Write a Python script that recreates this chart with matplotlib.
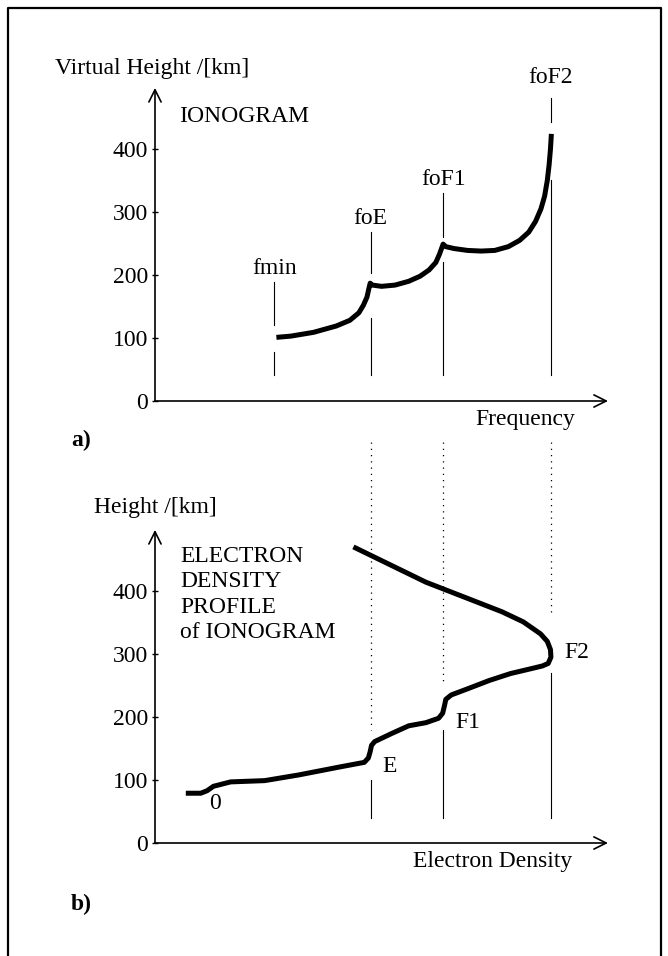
import matplotlib
matplotlib.use("Agg")
import matplotlib.pyplot as plt

plt.rcParams['font.family'] = ['Liberation Serif', 'DejaVu Serif']

# ---- ionogram: virtual height versus sounding frequency ----
iono_freq = [2.68, 3.00, 3.50, 4.00, 4.30, 4.50, 4.60, 4.68, 4.72, 4.75,
             4.80, 5.00, 5.30, 5.60, 5.85, 6.05, 6.20, 6.28, 6.33, 6.36,
             6.42, 6.60, 6.90, 7.20, 7.50, 7.80, 8.05, 8.25, 8.40, 8.52,
             8.60, 8.66, 8.70, 8.73, 8.75]
iono_height = [101, 103, 109, 119, 128, 140, 152, 165, 178, 187,
               184, 182, 184, 190, 198, 208, 220, 233, 243, 249,
               245, 242, 239, 238, 239, 245, 255, 268, 285, 305,
               325, 350, 375, 400, 424]

critical_names = ['fmin', 'foE', 'foF1', 'foF2']
critical_freqs = [2.63, 4.76, 6.36, 8.74]

# ---- electron density profile derived from the ionogram ----
prof_density = [0.68, 1.01, 1.15, 1.29, 1.67, 2.42, 3.17, 4.10, 4.62, 4.71,
                4.75, 4.78, 4.85, 5.23, 5.60, 5.98, 6.26, 6.35, 6.39, 6.42,
                6.54, 6.91, 7.38, 7.85, 8.32, 8.55, 8.68, 8.74, 8.73, 8.66,
                8.51, 8.13, 7.66, 6.91, 5.98, 4.38]
prof_height = [79, 79, 83, 90, 97, 99, 108, 121, 128, 135,
               145, 155, 161, 174, 186, 191, 198, 206, 218, 228,
               235, 245, 258, 269, 277, 281, 285, 295, 307, 320,
               332, 351, 367, 388, 414, 470]

layer_names = ['0', 'E', 'F1', 'F2']
layer_density = [4.76, 6.36, 8.74]

height_ticks = [0, 100, 200, 300, 400]

FS = 17
W, H = 668, 956
PX_X = 45.3      # pixels per frequency unit
PX_Y = 0.63      # pixels per km
X0 = 155         # pixel column of the height axis
XMAX, YMAX = 10.2, 520

fig = plt.figure(figsize=(W / 100, H / 100), dpi=100)


def make_axes(y_zero_px):
    ax = fig.add_axes([X0 / W, (H - y_zero_px) / H,
                       XMAX * PX_X / W, YMAX * PX_Y / H])
    ax.set_xlim(0, XMAX)
    ax.set_ylim(0, YMAX)
    for s in ax.spines.values():
        s.set_visible(False)
    ax.set_xticks([])
    ax.set_yticks(height_ticks)
    ax.tick_params(axis='y', direction='inout', length=4, width=1.0,
                   pad=3, labelsize=FS)
    ax.patch.set_alpha(0)
    arrow = dict(arrowstyle='->', lw=1.2, color='black',
                 shrinkA=0, shrinkB=0, mutation_scale=22)
    ax.annotate('', xy=(10.0, 0), xytext=(0, 0), arrowprops=arrow,
                annotation_clip=False)
    ax.annotate('', xy=(0, 497), xytext=(0, 0), arrowprops=arrow,
                annotation_clip=False)
    return ax


# ---------------- panel a ----------------
ax_a = make_axes(401)
ax_a.plot(iono_freq, iono_height, color='black', lw=3.6,
          solid_joinstyle='round', solid_capstyle='butt', clip_on=False)

upper_spans = [(121, 189), (203, 268), (260, 330), (443, 481)]
lower_spans = [(41, 78), (41, 132), (41, 221), (41, 351)]
label_heights = [211, 290, 351, 514]
for f, name, up, lo, lh in zip(critical_freqs, critical_names,
                               upper_spans, lower_spans, label_heights):
    ax_a.plot([f, f], up, color='black', lw=0.8, clip_on=False)
    ax_a.plot([f, f], lo, color='black', lw=0.8, clip_on=False)
    ax_a.text(f, lh, name, ha='center', va='center', fontsize=FS,
              clip_on=False)

ax_a.text(-2.21, 528, 'Virtual Height /[km]', ha='left', va='center',
          fontsize=FS, clip_on=False)
ax_a.text(0.53, 452, 'IONOGRAM', ha='left', va='center', fontsize=FS)
ax_a.text(8.17, -30, 'Frequency', ha='center', va='center', fontsize=FS,
          clip_on=False)
ax_a.text(-1.85, -63, 'a)', ha='left', va='center', fontsize=FS,
          fontweight='bold', clip_on=False)

# ---------------- panel b ----------------
ax_b = make_axes(843)
ax_b.plot(prof_density, prof_height, color='black', lw=3.6,
          solid_joinstyle='round', solid_capstyle='butt', clip_on=False)

dotted_ends = [179, 254, 359]
solid_spans = [(40, 100), (40, 179), (40, 270)]
for d, de, sp in zip(layer_density, dotted_ends, solid_spans):
    ax_b.plot([d, d], [636, de], color='black', lw=0.9,
              linestyle=(0, (1, 4)), clip_on=False)
    ax_b.plot([d, d], sp, color='black', lw=0.8, clip_on=False)

label_pos = [(1.19, 63), (5.03, 121), (6.62, 192), (9.03, 302)]
for name, (lx, ly) in zip(layer_names, label_pos):
    ax_b.text(lx, ly, name, ha='left', va='center', fontsize=FS)

block = ['ELECTRON', 'DENSITY', 'PROFILE', 'of IONOGRAM']
for i, line in enumerate(block):
    ax_b.text(0.55, 454 - i * 39.7, line, ha='left', va='center',
              fontsize=FS)

ax_b.text(-1.35, 532, 'Height /[km]', ha='left', va='center',
          fontsize=FS, clip_on=False)
ax_b.text(7.45, -30, 'Electron Density', ha='center', va='center',
          fontsize=FS, clip_on=False)
ax_b.text(-1.85, -98, 'b)', ha='left', va='center', fontsize=FS,
          fontweight='bold', clip_on=False)

# outer frame
frame_x = [8 / W, 8 / W, 661 / W, 661 / W]
frame_y = [0, 1 - 8 / H, 1 - 8 / H, 0]
fig.add_artist(plt.Line2D(frame_x, frame_y, color='black', lw=1.6,
                          transform=fig.transFigure))

fig.savefig('out.png', dpi=100, facecolor='white')
